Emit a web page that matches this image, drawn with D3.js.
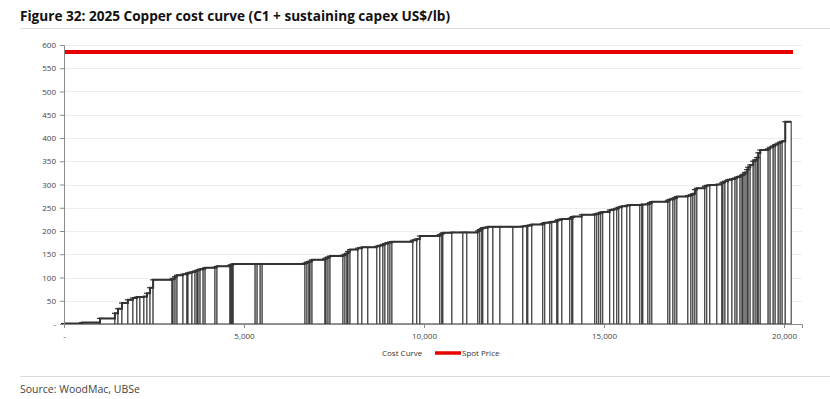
<!DOCTYPE html>
<html>
<head>
<meta charset="utf-8">
<script src="https://cdn.jsdelivr.net/npm/d3@7"></script>
<style>
  body { margin: 0; background: #fff; }
  text { font-family: "Open Sans", "Noto Sans", sans-serif; }
</style>
</head>
<body>
<script>
const W = 830;
const H = 399;

// mine capacity (kt Cu) in cost order, and C1 + sustaining capex (USc/lb)
const capacity = [
  500, 500, 415, 85, 110, 165, 140, 110, 85, 110, 85, 85, 85, 525,
  30, 55, 55, 165, 110, 30, 110, 85, 55, 30, 55, 85, 55, 275, 55, 360,
  30, 30, 30, 610, 55, 85, 55, 1190,
  55, 55, 30, 55, 360, 30, 55, 55, 360, 55, 55, 30, 55,
  220, 110, 165, 250, 85, 85, 55, 85, 55, 55, 580, 110, 85, 555,
  55, 30, 250, 305, 110, 305, 55, 55, 30, 140, 140, 195, 360, 275, 110, 30, 110, 305, 55,
  140, 55, 140, 30, 110, 220, 55, 30, 250, 360,
  55, 55, 55, 55, 195, 110, 85, 55, 85, 140, 85, 275, 55, 30, 140, 55,
  55, 445, 55, 85, 55, 55, 305, 85, 55, 55, 55, 220, 55, 85, 195, 140,
  30, 55, 85, 110, 85, 55, 85, 55, 30, 55, 55, 30, 55, 85, 55, 55, 30,
  55, 220, 55, 85, 55, 85, 55, 55, 85, 165
];
const cost = [
  1, 3, 12, 23, 33, 45, 52, 56, 58, 58, 59, 66, 78, 95,
  96, 98, 102, 105, 107, 108, 110, 112, 114, 115, 116, 118, 119, 121, 122, 124,
  126, 127, 128, 129, 129, 129, 129, 129,
  131, 133, 134, 135, 138, 140, 142, 144, 146, 148, 150, 152, 156,
  160, 163, 165, 165, 167, 169, 171, 173, 175, 176, 177, 180, 183, 189,
  192, 194, 196, 197, 197, 197, 200, 203, 205, 207, 209, 209, 209, 209, 210, 211, 212, 214, 216,
  218, 219, 220, 222, 224, 226, 227, 229, 231, 235,
  236, 237, 238, 240, 241, 245, 247, 249, 251, 253, 255, 256, 256, 257, 257, 258,
  261, 263, 266, 268, 270, 271, 274, 276, 278, 280, 289, 292, 296, 298, 299, 300,
  303, 305, 307, 310, 312, 314, 316, 318, 320, 322, 326, 332, 337, 342, 350, 353, 358,
  368, 374, 377, 380, 383, 386, 389, 391, 393, 435
];
const spotPrice = 585;
const spotRange = [0, 20250];

const yTicks = [0, 50, 100, 150, 200, 250, 300, 350, 400, 450, 500, 550, 600];
const xTicks = [0, 5000, 10000, 15000, 20000];

// cumulative start of each mine
let acc = 0;
const mines = capacity.map((c, i) => {
  const m = { x0: acc, x1: acc + c, cost: cost[i] };
  acc += c;
  return m;
});

const svg = d3.select("body").append("svg")
  .attr("width", W)
  .attr("height", H);

svg.append("rect").attr("width", W).attr("height", H).attr("fill", "#fff");

// title
svg.append("text")
  .attr("x", 20)
  .attr("y", 21)
  .attr("font-size", 13.6)
  .attr("font-weight", "bold")
  .attr("fill", "#111")
  .text("Figure 32: 2025 Copper cost curve (C1 + sustaining capex US$/lb)");

svg.append("line")
  .attr("x1", 20).attr("x2", W)
  .attr("y1", 28.5).attr("y2", 28.5)
  .attr("stroke", "#dcdcdc");

const x = d3.scaleLinear().domain([0, 20500]).range([64, 802]);
const y = d3.scaleLinear().domain([0, 600]).range([324, 45]);

// gridlines
svg.append("g")
  .selectAll("line")
  .data(yTicks.slice(1))
  .join("line")
  .attr("x1", 64).attr("x2", 802)
  .attr("y1", d => Math.round(y(d)) + 0.5)
  .attr("y2", d => Math.round(y(d)) + 0.5)
  .attr("stroke", "#ededed");

// cost curve bars
const bars = svg.append("g");
bars.selectAll("rect")
  .data(mines)
  .join("rect")
  .attr("x", d => x(d.x0))
  .attr("y", d => y(d.cost))
  .attr("width", d => x(d.x1) - x(d.x0))
  .attr("height", d => y(0) - y(d.cost))
  .attr("fill", "#fff")
  .attr("stroke", "#3c3c3c")
  .attr("stroke-width", 1.1);

// top step line
const stepLine = d3.line()
  .x(d => x(d[0]))
  .y(d => y(d[1]));
const stepPts = [];
mines.forEach(m => { stepPts.push([m.x0, m.cost]); stepPts.push([m.x1, m.cost]); });
bars.append("path")
  .attr("d", stepLine(stepPts))
  .attr("fill", "none")
  .attr("stroke", "#333")
  .attr("stroke-width", 2);

// error bar caps
bars.selectAll("line.cap")
  .data(mines)
  .join("line")
  .attr("class", "cap")
  .attr("x1", d => x(d.x0) - 3)
  .attr("x2", d => x(d.x0) + 3)
  .attr("y1", d => y(d.cost))
  .attr("y2", d => y(d.cost))
  .attr("stroke", "#333")
  .attr("stroke-width", 1.2);

// spot price
svg.append("line")
  .attr("x1", x(spotRange[0])).attr("x2", x(spotRange[1]))
  .attr("y1", y(spotPrice)).attr("y2", y(spotPrice))
  .attr("stroke", "#e60000")
  .attr("stroke-width", 4);

// axes
const fmt = d => d === 0 ? "-" : d3.format(",")(d);

const yAxis = svg.append("g")
  .attr("transform", "translate(64,0)")
  .call(d3.axisLeft(y).tickValues(yTicks).tickFormat(fmt).tickSize(4).tickPadding(4));

const xAxis = svg.append("g")
  .attr("transform", `translate(0,${y(0)})`)
  .call(d3.axisBottom(x).tickValues(xTicks).tickFormat(fmt).tickSize(4).tickPadding(5));

[yAxis, xAxis].forEach(g => {
  g.selectAll(".domain").attr("stroke", "#8a8a8a");
  g.selectAll(".tick line").attr("stroke", "#8a8a8a");
  g.selectAll("text")
    .attr("font-size", 8)
    .attr("fill", "#444")
    .attr("font-family", "'Open Sans', sans-serif");
});

// legend
const legend = svg.append("g").attr("font-size", 8).attr("fill", "#333");
legend.append("text").attr("x", 382).attr("y", 356).text("Cost Curve");
legend.append("line")
  .attr("x1", 435).attr("x2", 461)
  .attr("y1", 353).attr("y2", 353)
  .attr("stroke", "#e60000").attr("stroke-width", 3.5);
legend.append("text").attr("x", 462).attr("y", 356).text("Spot Price");

// source
svg.append("line")
  .attr("x1", 20).attr("x2", W)
  .attr("y1", 376.5).attr("y2", 376.5)
  .attr("stroke", "#dcdcdc");

svg.append("text")
  .attr("x", 20)
  .attr("y", 393)
  .attr("font-size", 10.5)
  .attr("fill", "#444")
  .text("Source: WoodMac, UBSe");
</script>
</body>
</html>
